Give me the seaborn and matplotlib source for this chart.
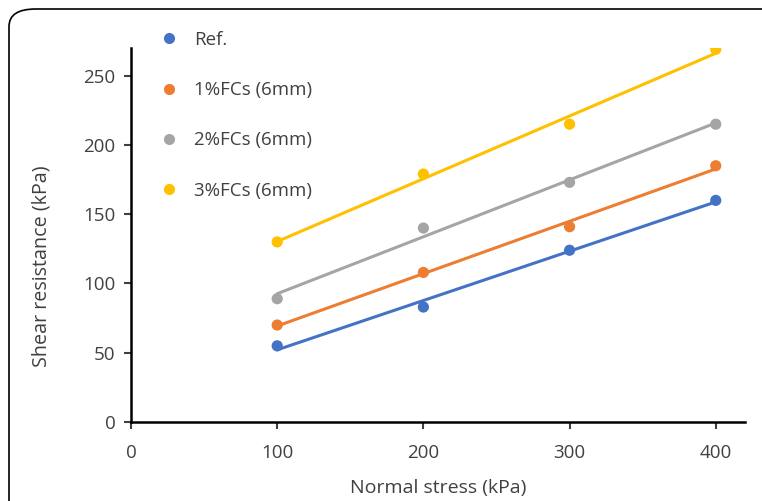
import numpy as np
import pandas as pd
import matplotlib
matplotlib.use("Agg")
import matplotlib.pyplot as plt
from matplotlib.lines import Line2D
from matplotlib.patches import FancyBboxPatch
import seaborn as sns

normal_stress = [100, 200, 300, 400]
ref = [55, 83, 124, 160]
fc1 = [70, 108, 141, 185]
fc2 = [89, 140, 173, 215]
fc3 = [130, 179, 215, 269]
series_names = ["Ref.", "1%FCs (6mm)", "2%FCs (6mm)", "3%FCs (6mm)"]
colors = ["#4472C4", "#ED7D31", "#A5A5A5", "#FFC000"]
x_ticks = [0, 100, 200, 300, 400]
y_ticks = [0, 50, 100, 150, 200, 250]

sns.set_style("white")
plt.rcParams['font.family'] = ['Open Sans', 'DejaVu Sans']

fig = plt.figure(figsize=(7.62, 5.01), dpi=100)
ax = fig.add_axes([131/762, 1-422/501, (745-131)/762, (422-48)/501])

for name, vals, c in zip(series_names, [ref, fc1, fc2, fc3], colors):
    df = pd.DataFrame({"x": normal_stress, "y": vals})
    sns.regplot(data=df, x="x", y="y", ax=ax, ci=None, truncate=True,
                scatter_kws=dict(s=65, color=c, edgecolor='none', alpha=1, zorder=3),
                line_kws=dict(color=c, lw=2.2, zorder=2))

ax.set_xlim(0, 420)
ax.set_ylim(0, 270)
ax.set_xticks(x_ticks)
ax.set_yticks(y_ticks)
ax.tick_params(axis='both', labelsize=13.5, colors='#404040', length=5, width=1.5,
               direction='out', bottom=True, left=True)
ax.tick_params(axis='x', pad=11)
ax.tick_params(axis='y', pad=6)
for side in ['top', 'right']:
    ax.spines[side].set_visible(False)
for side in ['left', 'bottom']:
    ax.spines[side].set_color('black')
    ax.spines[side].set_linewidth(1.8)
ax.set_xlabel("Normal stress (kPa)", fontsize=14, color='#404040', labelpad=12)
ax.set_ylabel("Shear resistance (kPa)", fontsize=14.2, color='#404040')
ax.yaxis.set_label_coords(-0.129, 0.417)

handles = [Line2D([], [], marker='o', linestyle='none', color=c, markersize=8,
                  markeredgecolor='none') for c in colors]
fig.legend(handles, series_names, loc='upper left', bbox_to_anchor=(133/762, 1-14/501),
           frameon=False, fontsize=13.5, labelspacing=1.72, handletextpad=0.35,
           labelcolor='#404040')

border = FancyBboxPatch((9/762, -0.05), 1.2, 1 - 9/501 + 0.05,
                        boxstyle="round,pad=0,rounding_size=0.035",
                        transform=fig.transFigure, fill=False,
                        edgecolor='black', lw=1.2, clip_on=False)
fig.patches.append(border)

fig.savefig("out.png", dpi=100)
